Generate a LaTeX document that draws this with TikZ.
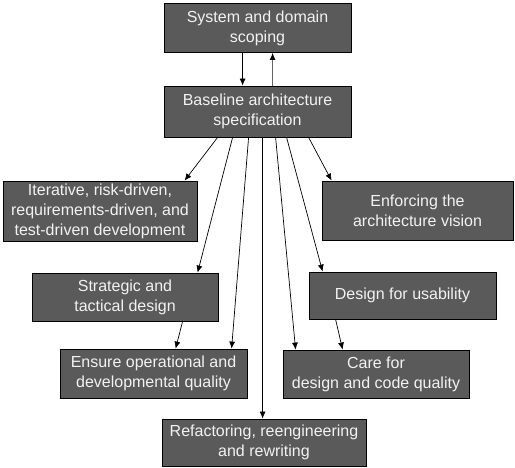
\documentclass[tikz,border=0pt]{standalone}
\usepackage{fontspec}
\setmainfont{Liberation Sans}
\usetikzlibrary{arrows.meta}
\definecolor{boxfill}{HTML}{5A5A5A}
\definecolor{boxtext}{HTML}{F2F2F2}
\tikzset{
  stagebox/.style={draw=black, line width=0.8pt, fill=boxfill, text=boxtext,
    font=\fontsize{16}{20}\selectfont, align=center, inner sep=0pt},
  flow/.style={draw=black, line width=0.7pt, -{Latex[length=7pt,width=6pt]}},
  backflow/.style={draw=black!60, line width=0.8pt, -{Latex[length=7pt,width=6pt,black]}}
}
\begin{document}
\begin{tikzpicture}[x=1pt,y=-1pt]
\useasboundingbox (0,0) rectangle (515,468);

\node[stagebox, minimum width=187pt, minimum height=49pt] (scope) at (257.5,28)
  {System and domain\\scoping};
\node[stagebox, minimum width=187pt, minimum height=51pt] (base) at (257.5,111.5)
  {Baseline architecture\\specification};
\node[stagebox, minimum width=194pt, minimum height=60pt] (iter) at (100,211)
  {Iterative, risk-driven,\\requirements-driven, and\\test-driven development};
\node[stagebox, minimum width=191pt, minimum height=59pt] (vision) at (417.5,210.5)
  {Enforcing the\\architecture vision};
\node[stagebox, minimum width=186pt, minimum height=48pt] (strat) at (125,297)
  {Strategic and\\tactical design};
\node[stagebox, minimum width=187pt, minimum height=49pt] (ensure) at (153.5,373.5)
  {Ensure operational and\\developmental quality};
\node[stagebox, minimum width=204pt, minimum height=47pt] (refac) at (264,442.5)
  {Refactoring, reengineering\\and rewriting};
\node[stagebox, minimum width=187pt, minimum height=47pt] (usab) at (402.5,295.5)
  {Design for usability};
\node[stagebox, minimum width=186pt, minimum height=48pt] (care) at (376,374)
  {Care for\\design and code quality};

% scoping <-> baseline
\draw[flow] ([xshift=79pt]scope.south west) -- ([xshift=79pt]base.north west);
\draw[backflow] ([xshift=109pt]base.north west) -- ([xshift=109pt]scope.south west);

% baseline fans out
\draw[flow] ([xshift=54pt]base.south west) -- ([xshift=182pt]iter.north west);
\draw[flow] ([xshift=69pt]base.south west) -- ([xshift=166pt]strat.north west);
\draw[flow] ([xshift=85pt]base.south west) -- ([xshift=172pt]ensure.north west);
\draw[flow] ([xshift=99pt]base.south west) -- ([xshift=101pt]refac.north west);
\draw[flow] ([xshift=112pt]base.south west) -- ([xshift=13pt]care.north west);
\draw[flow] ([xshift=123pt]base.south west) -- ([xshift=14pt]usab.north west);
\draw[flow] ([xshift=145pt]base.south west) -- ([xshift=10pt]vision.north west);

% second level
\draw[flow] ([xshift=151pt]strat.south west) -- ([xshift=116pt]ensure.north west);
\draw[flow] ([xshift=27pt]usab.south west) -- ([xshift=60pt]care.north west);
\end{tikzpicture}
\end{document}
